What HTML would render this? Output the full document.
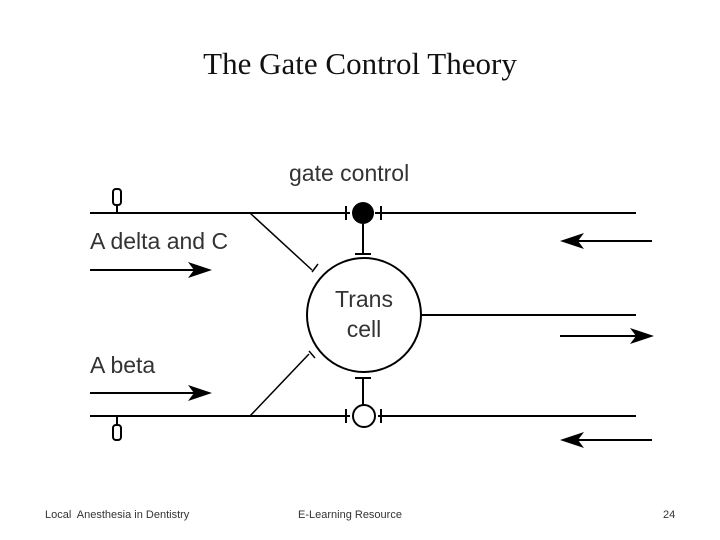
<!DOCTYPE html>
<html><head><style>
body{margin:0;width:720px;height:540px;background:#fff;overflow:hidden;position:relative;font-family:"Liberation Sans",sans-serif}
.t{position:absolute;white-space:nowrap}
</style></head><body>
<div class="t" style="left:0;width:720px;top:46px;text-align:center;font-family:'Liberation Serif',serif;font-size:31px;color:#111">The Gate Control Theory</div>
<svg width="720" height="540" style="position:absolute;left:0;top:0">
<g stroke="#000" stroke-width="2" fill="none">
<line x1="90" y1="213" x2="350" y2="213"/><line x1="375" y1="213" x2="636" y2="213"/>
<line x1="90" y1="416" x2="350" y2="416"/><line x1="378" y1="416" x2="636" y2="416"/>
<line x1="422" y1="315" x2="636" y2="315"/>
<line x1="346" y1="206" x2="346" y2="220"/><line x1="381" y1="206" x2="381" y2="220"/>
<line x1="346" y1="409" x2="346" y2="423"/><line x1="381" y1="409" x2="381" y2="423"/>
<circle cx="364" cy="315" r="57"/>
<circle cx="364" cy="416" r="11"/>
<line x1="363" y1="224" x2="363" y2="254"/><line x1="355" y1="254" x2="371" y2="254"/>
<line x1="363" y1="405" x2="363" y2="378"/><line x1="355" y1="378" x2="371" y2="378"/>
<line x1="250" y1="213" x2="312" y2="270" stroke-width="1.5"/>
<line x1="250" y1="416" x2="309" y2="354" stroke-width="1.5"/>
<line x1="312" y1="272" x2="318" y2="264" stroke-width="1.5"/>
<line x1="309" y1="351" x2="315" y2="358" stroke-width="1.5"/>
<line x1="90" y1="270" x2="200" y2="270"/><line x1="90" y1="393" x2="200" y2="393"/>
<line x1="575" y1="241" x2="652" y2="241"/><line x1="560" y1="336" x2="640" y2="336"/><line x1="575" y1="440" x2="652" y2="440"/>
<line x1="117" y1="205" x2="117" y2="213"/><line x1="117" y1="416" x2="117" y2="424"/>
<rect x="113" y="189" width="8" height="16" rx="3"/>
<rect x="113" y="425" width="8" height="15" rx="3"/>
</g>
<g fill="#000">
<circle cx="363" cy="213" r="11"/>
<polygon points="212,270 188,262 194,270 188,278"/>
<polygon points="212,393 188,385 194,393 188,401"/>
<polygon points="560,241 584,233 578,241 584,249"/>
<polygon points="654,336 630,328 636,336 630,344"/>
<polygon points="560,440 584,432 578,440 584,448"/>
</g>
</svg>
<div class="t" style="left:289px;top:160px;font-size:23px;color:#333">gate control</div>
<div class="t" style="left:90px;top:228px;font-size:23px;color:#333">A delta and C</div>
<div class="t" style="left:90px;top:352px;font-size:23px;color:#333">A beta</div>
<div class="t" style="left:314px;top:284px;width:100px;text-align:center;font-size:23px;line-height:30px;color:#333">Trans<br>cell</div>
<div class="t" style="left:45px;top:509px;font-size:11px;color:#333">Local&nbsp; Anesthesia in Dentistry</div>
<div class="t" style="left:298px;top:509px;font-size:11px;color:#333">E-Learning Resource</div>
<div class="t" style="left:663px;top:509px;font-size:11px;color:#333">24</div>
</body></html>
